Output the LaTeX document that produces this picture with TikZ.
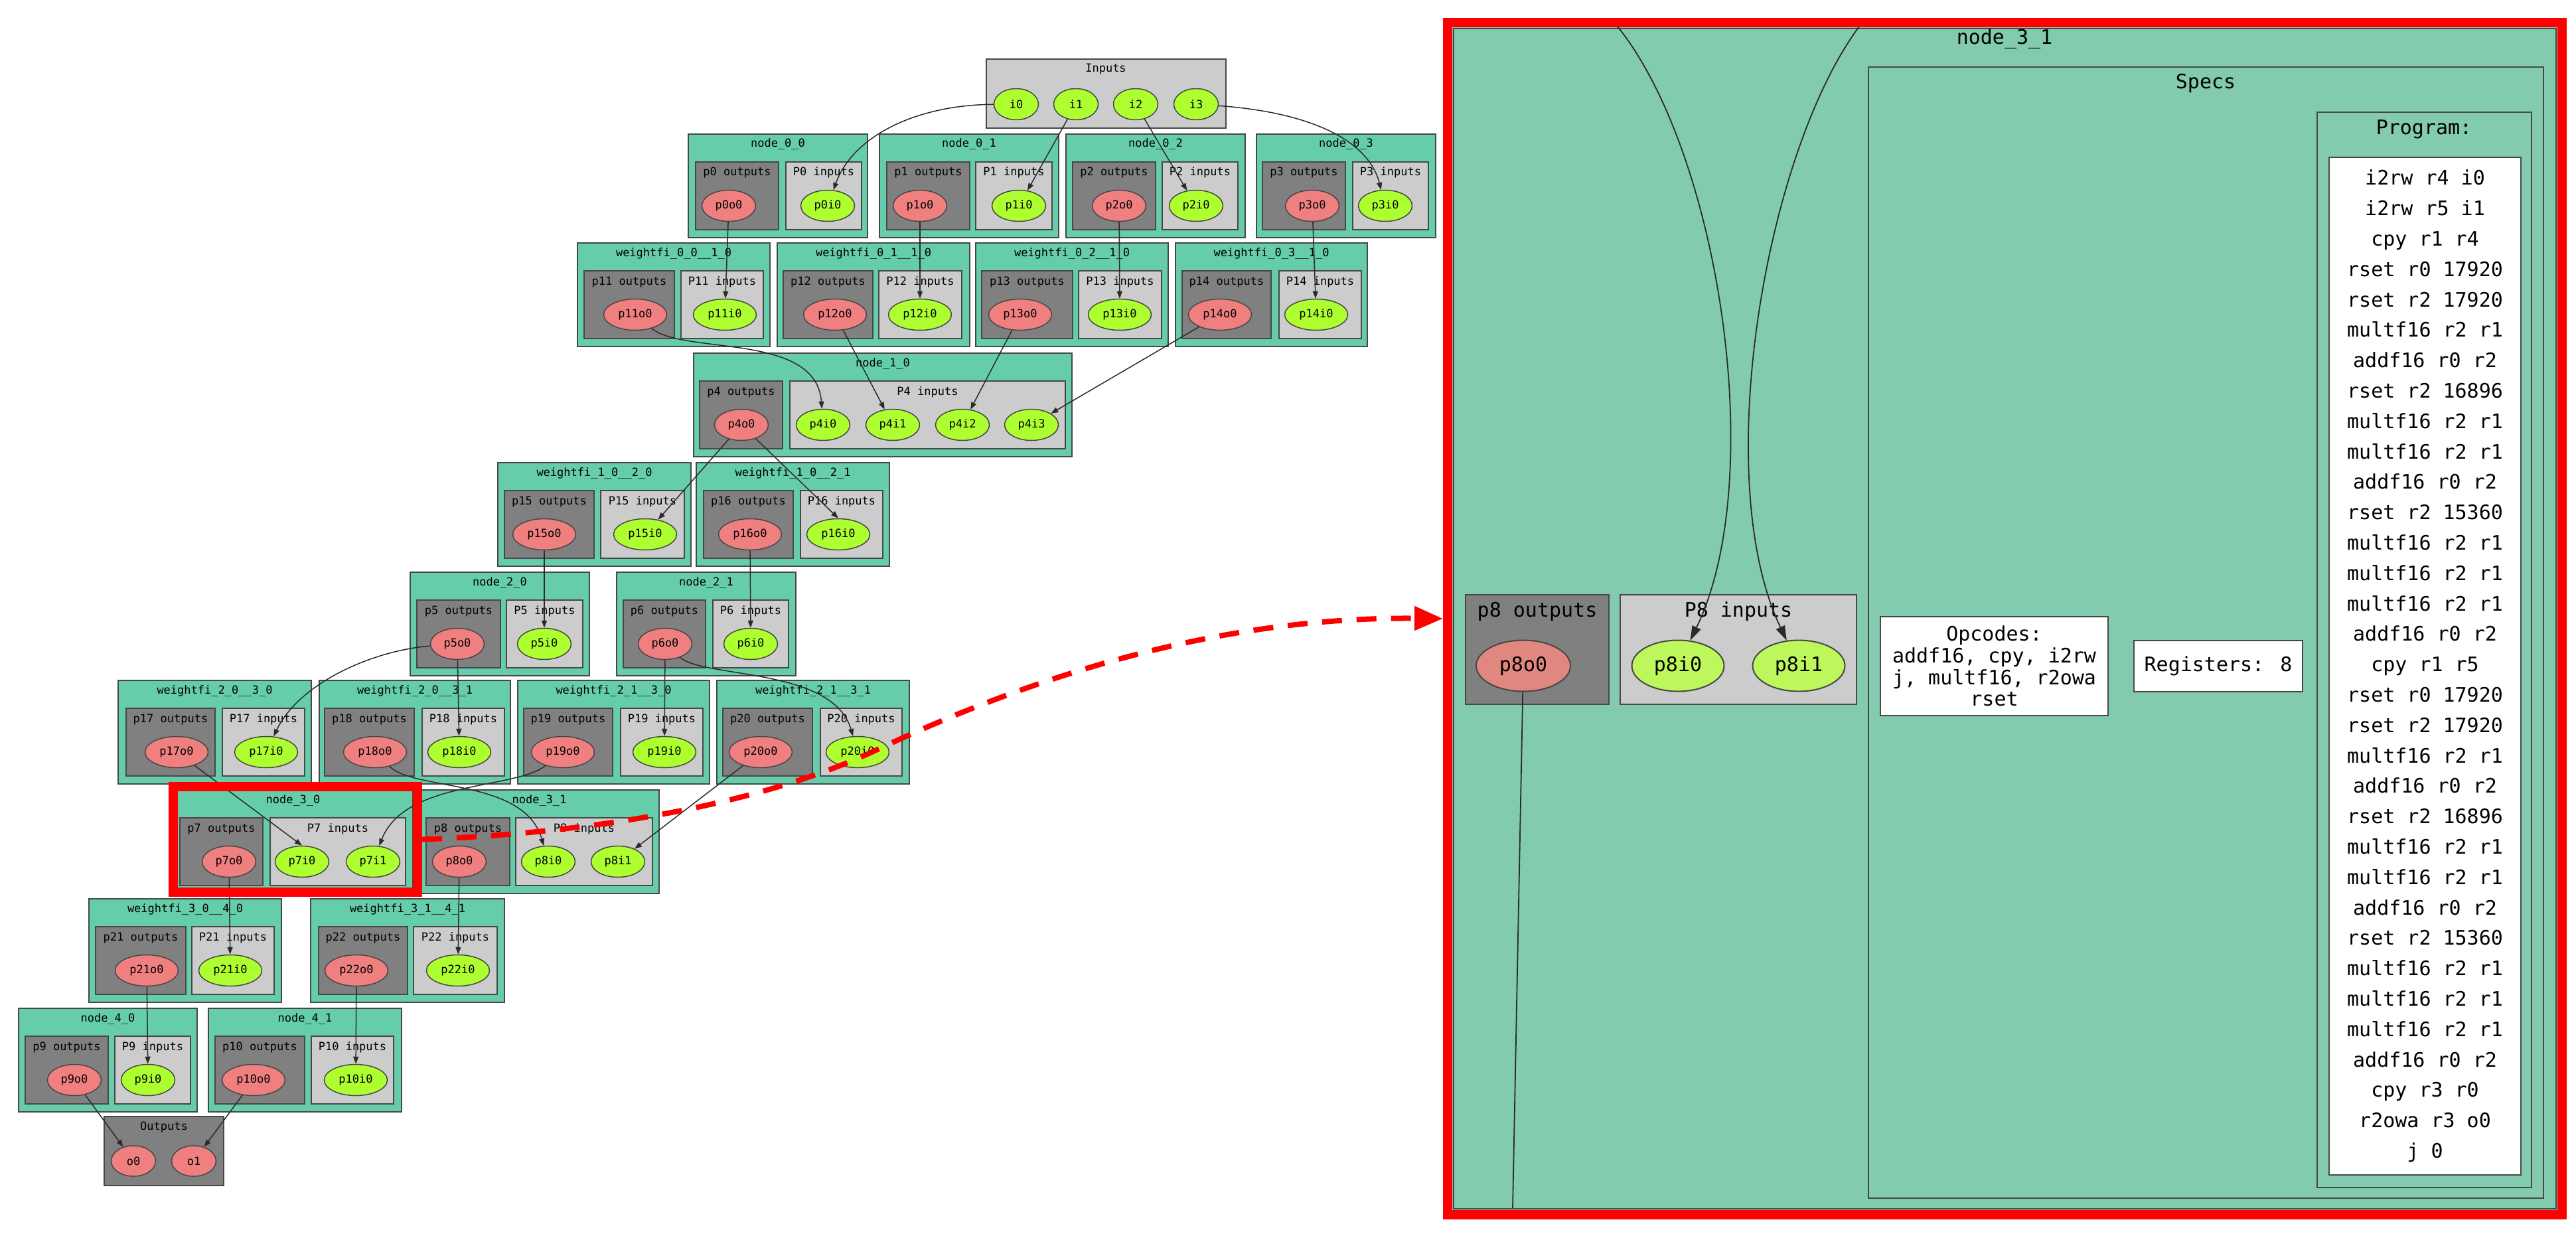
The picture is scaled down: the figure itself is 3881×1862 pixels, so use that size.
\documentclass[tikz,border=0pt]{standalone}
\usepackage{fontspec}
\newfontfamily\monof{DejaVu Sans Mono}
\usetikzlibrary{shapes.geometric,arrows.meta}
\definecolor{teal1}{HTML}{66CDAA}
\definecolor{teal2}{HTML}{82CBAE}
\definecolor{gout}{HTML}{808080}
\definecolor{gin}{HTML}{CCCCCC}
\definecolor{coral}{HTML}{F08080}
\definecolor{gy}{HTML}{ADFF2F}
\definecolor{coral2}{HTML}{E08880}
\definecolor{gy2}{HTML}{BDF75B}
\definecolor{bord}{HTML}{474747}
\definecolor{edgec}{HTML}{2A2A2A}
\newcommand\sfnt{\monof\fontsize{17}{20}\selectfont}
\newcommand\bfnt{\monof\fontsize{30}{36}\selectfont}
% cluster: name, top, x1, x2, title
\newcommand\C[5]{\draw[clus] (#3,#2) rectangle (#4,#2+156);
  \node[ttl] (#1) at ({(#3+#4)/2},#2+20) {#5};}
\newcommand\Ob[5]{\draw[outb] (#3,#2+42) rectangle (#4,#2+144);
  \node[ttl] (#1) at ({(#3+#4)/2},#2+63) {#5};}
\newcommand\Ib[5]{\draw[inb] (#3,#2+42) rectangle (#4,#2+144);
  \node[ttl] (#1) at ({(#3+#4)/2},#2+63) {#5};}
\begin{document}
\begin{tikzpicture}[x=1pt,y=-1pt,
  clus/.style={draw=bord, line width=2.5pt, fill=teal1},
  outb/.style={draw=bord, line width=2pt, fill=gout},
  inb/.style={draw=bord, line width=2pt, fill=gin},
  ttl/.style={anchor=base, font=\sfnt, inner sep=0pt},
  ell/.style={ellipse, draw=bord, line width=1.5pt, inner sep=0pt, minimum width=81pt, minimum height=47pt, font=\sfnt},
  oe/.style={ell, fill=coral},
  ie/.style={ell, fill=gy},
  wid/.style={minimum width=95pt},
  nar/.style={minimum width=67pt},
  conn/.style={draw=edgec, line width=1.5pt, -{Triangle[length=11pt,width=8pt]}},
  bconn/.style={draw=edgec, line width=1.8pt, -{Triangle[length=22pt,width=14pt]}},
  bttl/.style={anchor=base, font=\bfnt, inner sep=0pt},
  bbox/.style={draw=bord, line width=2.5pt},
]
\useasboundingbox (0,0) rectangle (3881,1862);

% ---------- Inputs ----------
\draw[inb] (1486,89) rectangle (1847,193);
\node[ttl] (tin) at (1666,109) {Inputs};
\node[ie,nar] (i0) at (1531,157) {i0};
\node[ie,nar] (i1) at (1621,157) {i1};
\node[ie,nar] (i2) at (1711,157) {i2};
\node[ie,nar] (i3) at (1802,157) {i3};

% ---------- node_0 row ----------
\C{t00}{202}{1037}{1307}{node\_0\_0}
\Ob{lp0o}{202}{1048}{1173}{p0 outputs}
\Ib{lp0i}{202}{1184}{1298}{P0 inputs}
\node[oe] (p0o0) at (1098,310) {p0o0};
\node[ie] (p0i0) at (1247,310) {p0i0};
\C{t01}{202}{1325}{1595}{node\_0\_1}
\Ob{lp1o}{202}{1336}{1461}{p1 outputs}
\Ib{lp1i}{202}{1470}{1585}{P1 inputs}
\node[oe] (p1o0) at (1386,310) {p1o0};
\node[ie] (p1i0) at (1535,310) {p1i0};
\C{t02}{202}{1606}{1876}{node\_0\_2}
\Ob{lp2o}{202}{1616}{1741}{p2 outputs}
\Ib{lp2i}{202}{1751}{1865}{P2 inputs}
\node[oe] (p2o0) at (1686,310) {p2o0};
\node[ie] (p2i0) at (1802,310) {p2i0};
\C{t03}{202}{1893}{2163}{node\_0\_3}
\Ob{lp3o}{202}{1902}{2027}{p3 outputs}
\Ib{lp3i}{202}{2038}{2152}{P3 inputs}
\node[oe] (p3o0) at (1977,310) {p3o0};
\node[ie] (p3i0) at (2087,310) {p3i0};

% ---------- weightfi_0 row ----------
\C{tw00}{366}{870}{1160}{weightfi\_0\_0\_\_1\_0}
\Ob{lp11o}{366}{880}{1016}{p11 outputs}
\Ib{lp11i}{366}{1026}{1150}{P11 inputs}
\node[oe,wid] (p11o0) at (957,474) {p11o0};
\node[ie,wid] (p11i0) at (1092,474) {p11i0};
\C{tw01}{366}{1171}{1461}{weightfi\_0\_1\_\_1\_0}
\Ob{lp12o}{366}{1180}{1315}{p12 outputs}
\Ib{lp12i}{366}{1324}{1449}{P12 inputs}
\node[oe,wid] (p12o0) at (1258,474) {p12o0};
\node[ie,wid] (p12i0) at (1386,474) {p12i0};
\C{tw02}{366}{1470}{1760}{weightfi\_0\_2\_\_1\_0}
\Ob{lp13o}{366}{1479}{1616}{p13 outputs}
\Ib{lp13i}{366}{1625}{1750}{P13 inputs}
\node[oe,wid] (p13o0) at (1537,474) {p13o0};
\node[ie,wid] (p13i0) at (1687,474) {p13i0};
\C{tw03}{366}{1771}{2060}{weightfi\_0\_3\_\_1\_0}
\Ob{lp14o}{366}{1781}{1915}{p14 outputs}
\Ib{lp14i}{366}{1927}{2051}{P14 inputs}
\node[oe,wid] (p14o0) at (1838,474) {p14o0};
\node[ie,wid] (p14i0) at (1983,474) {p14i0};

% ---------- node_1_0 ----------
\C{t10}{532}{1045}{1615}{node\_1\_0}
\Ob{lp4o}{532}{1054}{1179}{p4 outputs}
\Ib{lp4i}{532}{1190}{1605}{P4 inputs}
\node[oe] (p4o0) at (1117,640) {p4o0};
\node[ie] (p4i0) at (1240,640) {p4i0};
\node[ie] (p4i1) at (1345,640) {p4i1};
\node[ie] (p4i2) at (1450,640) {p4i2};
\node[ie] (p4i3) at (1554,640) {p4i3};

% ---------- weightfi_1 row ----------
\C{tw10}{697}{750}{1041}{weightfi\_1\_0\_\_2\_0}
\Ob{lp15o}{697}{760}{895}{p15 outputs}
\Ib{lp15i}{697}{905}{1031}{P15 inputs}
\node[oe,wid] (p15o0) at (820,805) {p15o0};
\node[ie,wid] (p15i0) at (972,805) {p15i0};
\C{tw11}{697}{1049}{1340}{weightfi\_1\_0\_\_2\_1}
\Ob{lp16o}{697}{1060}{1195}{p16 outputs}
\Ib{lp16i}{697}{1206}{1330}{P16 inputs}
\node[oe,wid] (p16o0) at (1130,805) {p16o0};
\node[ie,wid] (p16i0) at (1263,805) {p16i0};

% ---------- node_2 row ----------
\C{t20}{862}{618}{888}{node\_2\_0}
\Ob{lp5o}{862}{628}{754}{p5 outputs}
\Ib{lp5i}{862}{763}{878}{P5 inputs}
\node[oe] (p5o0) at (689,970) {p5o0};
\node[ie] (p5i0) at (820,970) {p5i0};
\C{t21}{862}{929}{1199}{node\_2\_1}
\Ob{lp6o}{862}{939}{1063}{p6 outputs}
\Ib{lp6i}{862}{1074}{1188}{P6 inputs}
\node[oe] (p6o0) at (1002,970) {p6o0};
\node[ie] (p6i0) at (1131,970) {p6i0};

% ---------- weightfi_2 row ----------
\C{tw200}{1025}{178}{469}{weightfi\_2\_0\_\_3\_0}
\Ob{lp17o}{1025}{190}{324}{p17 outputs}
\Ib{lp17i}{1025}{335}{459}{P17 inputs}
\node[oe,wid] (p17o0) at (266,1133) {p17o0};
\node[ie,wid] (p17i0) at (401,1133) {p17i0};
\C{tw201}{1025}{481}{769}{weightfi\_2\_0\_\_3\_1}
\Ob{lp18o}{1025}{489}{624}{p18 outputs}
\Ib{lp18i}{1025}{636}{760}{P18 inputs}
\node[oe,wid] (p18o0) at (565,1133) {p18o0};
\node[ie,wid] (p18i0) at (692,1133) {p18i0};
\C{tw210}{1025}{780}{1069}{weightfi\_2\_1\_\_3\_0}
\Ob{lp19o}{1025}{789}{923}{p19 outputs}
\Ib{lp19i}{1025}{935}{1059}{P19 inputs}
\node[oe,wid] (p19o0) at (848,1133) {p19o0};
\node[ie,wid] (p19i0) at (1001,1133) {p19i0};
\C{tw211}{1025}{1080}{1370}{weightfi\_2\_1\_\_3\_1}
\Ob{lp20o}{1025}{1089}{1224}{p20 outputs}
\Ib{lp20i}{1025}{1236}{1359}{P20 inputs}
\node[oe,wid] (p20o0) at (1146,1133) {p20o0};
\node[ie,wid] (p20i0) at (1292,1133) {p20i0};

% ---------- node_3 row ----------
\C{t30}{1190}{261}{622}{node\_3\_0}
\Ob{lp7o}{1190}{271}{396}{p7 outputs}
\Ib{lp7i}{1190}{407}{611}{P7 inputs}
\node[oe] (p7o0) at (345,1298) {p7o0};
\node[ie] (p7i0) at (455,1298) {p7i0};
\node[ie] (p7i1) at (562,1298) {p7i1};
\C{t31}{1190}{632}{993}{node\_3\_1}
\Ob{lp8o}{1190}{642}{768}{p8 outputs}
\Ib{lp8i}{1190}{777}{983}{P8 inputs}
\node[oe] (p8o0) at (692,1298) {p8o0};
\node[ie] (p8i0) at (826,1298) {p8i0};
\node[ie] (p8i1) at (931,1298) {p8i1};

% ---------- weightfi_3 row ----------
\C{tw30}{1354}{134}{424}{weightfi\_3\_0\_\_4\_0}
\Ob{lp21o}{1354}{144}{280}{p21 outputs}
\Ib{lp21i}{1354}{289}{413}{P21 inputs}
\node[oe,wid] (p21o0) at (221,1462) {p21o0};
\node[ie,wid] (p21i0) at (347,1462) {p21i0};
\C{tw31}{1354}{468}{760}{weightfi\_3\_1\_\_4\_1}
\Ob{lp22o}{1354}{480}{614}{p22 outputs}
\Ib{lp22i}{1354}{623}{749}{P22 inputs}
\node[oe,wid] (p22o0) at (537,1462) {p22o0};
\node[ie,wid] (p22i0) at (690,1462) {p22i0};

% ---------- node_4 row ----------
\C{t40}{1519}{28}{297}{node\_4\_0}
\Ob{lp9o}{1519}{38}{163}{p9 outputs}
\Ib{lp9i}{1519}{173}{287}{P9 inputs}
\node[oe] (p9o0) at (112,1627) {p9o0};
\node[ie] (p9i0) at (223,1627) {p9i0};
\C{t41}{1519}{314}{605}{node\_4\_1}
\Ob{lp10o}{1519}{324}{459}{p10 outputs}
\Ib{lp10i}{1519}{469}{593}{P10 inputs}
\node[oe,wid] (p10o0) at (382,1627) {p10o0};
\node[ie,wid] (p10i0) at (536,1627) {p10i0};

% ---------- Outputs ----------
\draw[outb] (157,1682) rectangle (337,1786);
\node[ttl] (tout) at (247,1702) {Outputs};
\node[oe,nar,minimum height=46pt] (o0) at (201,1749) {o0};
\node[oe,nar,minimum height=46pt] (o1) at (292,1749) {o1};

% ---------- connectors ----------
\draw[conn] (i0) .. controls (1380,158) and (1285,205) .. (p0i0);
\draw[conn] (i1) -- (p1i0);
\draw[conn] (i2) -- (p2i0);
\draw[conn] (i3) .. controls (1960,168) and (2060,205) .. (p3i0);
\draw[conn] (p0o0) -- (p11i0);
\draw[conn] (p1o0) -- (p12i0);
\draw[conn] (p2o0) -- (p13i0);
\draw[conn] (p3o0) -- (p14i0);
\draw[conn] (p11o0) .. controls (1030,535) and (1230,500) .. (p4i0);
\draw[conn] (p12o0) -- (p4i1);
\draw[conn] (p13o0) -- (p4i2);
\draw[conn] (p14o0) -- (p4i3);
\draw[conn] (p4o0) -- (p15i0);
\draw[conn] (p4o0) -- (p16i0.north);
\draw[conn] (p15o0) -- (p5i0);
\draw[conn] (p16o0) -- (p6i0);
\draw[conn] (p5o0) .. controls (560,980) and (450,1030) .. (p17i0);
\draw[conn] (p5o0) -- (p18i0);
\draw[conn] (p6o0) -- (p19i0);
\draw[conn] (p6o0) .. controls (1060,1022) and (1255,1005) .. (p20i0);
\draw[conn] (p17o0) -- (p7i0.north);
\draw[conn] (p18o0) .. controls (625,1192) and (790,1172) .. (p8i0);
\draw[conn] (p19o0) .. controls (775,1190) and (610,1175) .. (p7i1);
\draw[conn] (p20o0) -- (p8i1);
\draw[conn] (p7o0) -- (p21i0);
\draw[conn] (p8o0) -- (p22i0);
\draw[conn] (p21o0) -- (p9i0);
\draw[conn] (p22o0) -- (p10i0);
\draw[conn] (p9o0) -- (o0);
\draw[conn] (p10o0) -- (o1);

% ---------- highlight of node_3_0 ----------
\node[draw=red, line width=14pt, minimum width=368pt, minimum height=159pt, inner sep=0pt] (hl) at (445,1264.5) {};

% ---------- expanded node_3_1 ----------
\node[draw=red, line width=14pt, fill=teal2, minimum width=1679pt, minimum height=1796pt, inner sep=0pt] (panel) at (3020.5,932) {};
\draw[bord, line width=2pt] (2190,43) rectangle (3851,1821);
\node[bttl] (bt31) at (3020,67) {node\_3\_1};
\draw[bbox] (2815,101) rectangle (3832,1805);
\node[bttl] (bspecs) at (3323,134) {Specs};
\draw[bbox] (3491,169) rectangle (3814,1789);
\node[bttl] (bprogt) at (3652,203) {Program:};
\node[draw=bord, line width=2.5pt, fill=white, minimum width=289pt, minimum height=1533pt, inner sep=0pt, align=center, font=\monof\fontsize{30}{45.8}\selectfont] (prog) at (3653.5,1003.5)
 {i2rw r4 i0\\i2rw r5 i1\\cpy r1 r4\\rset r0 17920\\rset r2 17920\\multf16 r2 r1\\addf16 r0 r2\\rset r2 16896\\multf16 r2 r1\\multf16 r2 r1\\addf16 r0 r2\\rset r2 15360\\multf16 r2 r1\\multf16 r2 r1\\multf16 r2 r1\\addf16 r0 r2\\cpy r1 r5\\rset r0 17920\\rset r2 17920\\multf16 r2 r1\\addf16 r0 r2\\rset r2 16896\\multf16 r2 r1\\multf16 r2 r1\\addf16 r0 r2\\rset r2 15360\\multf16 r2 r1\\multf16 r2 r1\\multf16 r2 r1\\addf16 r0 r2\\cpy r3 r0\\r2owa r3 o0\\j 0};
\node[draw=bord, line width=2.5pt, fill=white, minimum width=343pt, minimum height=149pt, inner sep=0pt, align=center, font=\monof\fontsize{30}{32.7}\selectfont] (opc) at (3004.5,1003.5)
 {Opcodes:\\addf16, cpy, i2rw\\j, multf16, r2owa\\rset};
\node[draw=bord, line width=2.5pt, fill=white, minimum width=254pt, minimum height=77pt, inner sep=0pt, font=\bfnt] (regs) at (3342,1003.5) {Registers: 8};
\draw[bbox, fill=gout] (2208,896) rectangle (2424,1061);
\node[bttl] (bp8o) at (2316,929) {p8 outputs};
\draw[bbox, fill=gin] (2441,896) rectangle (2797,1061);
\node[bttl] (bp8i) at (2619,929) {P8 inputs};
\node[ellipse, draw=bord, line width=2pt, fill=coral2, minimum width=142pt, minimum height=77pt, inner sep=0pt, font=\bfnt] (bp8o0) at (2295,1003) {p8o0};
\node[ellipse, draw=bord, line width=2pt, fill=gy2, minimum width=139pt, minimum height=77pt, inner sep=0pt, font=\bfnt] (bp8i0) at (2528,1003) {p8i0};
\node[ellipse, draw=bord, line width=2pt, fill=gy2, minimum width=139pt, minimum height=77pt, inner sep=0pt, font=\bfnt] (bp8i1) at (2710,1003) {p8i1};
\coordinate (ba1) at (2437,40);
\coordinate (ba2) at (2801,40);
\coordinate (bb1) at (2279,1820);
\draw[bconn] (ba1) .. controls (2590,230) and (2665,720) .. (bp8i0);
\draw[bconn] (ba2) .. controls (2660,230) and (2575,720) .. (bp8i1);
\draw[draw=edgec, line width=1.8pt] (bp8o0) -- (bb1);

% ---------- dashed zoom arrow ----------
\draw[red, line width=8pt, dash pattern=on 30pt off 22pt, -{Triangle[length=43pt,width=35pt]}]
  (hl.east) .. controls (900,1255) and (1150,1210) .. (1320,1130)
  .. controls (1500,1045) and (1800,928) .. (panel.west);
\end{tikzpicture}
\end{document}
